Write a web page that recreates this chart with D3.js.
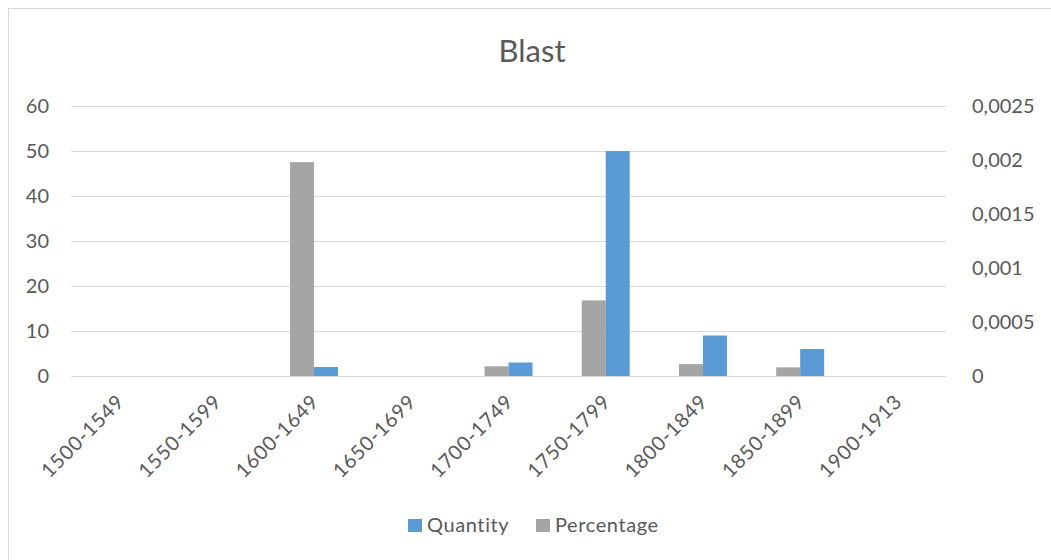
<!DOCTYPE html>
<html>
<head>
<meta charset="utf-8">
<script src="https://cdn.jsdelivr.net/npm/d3@7"></script>
<style>
html,body{margin:0;padding:0;background:#fff;}
svg{display:block;font-family:Lato,"Open Sans",sans-serif;}
</style>
</head>
<body>
<svg id="chart" width="1051" height="560"></svg>
<script>
const categories = ["1500-1549","1550-1599","1600-1649","1650-1699","1700-1749","1750-1799","1800-1849","1850-1899","1900-1913"];
const quantity = [0, 0, 2, 0, 3, 50, 9, 6, 0];
const percentage = [0, 0, 0.00198, 0, 0.00009, 0.0007, 0.00011, 0.00008, 0];
const leftTicks = [0, 10, 20, 30, 40, 50, 60];
const rightTicks = [0, 0.0005, 0.001, 0.0015, 0.002, 0.0025];
const rightTickLabels = ["0", "0,0005", "0,001", "0,0015", "0,002", "0,0025"];

const svg = d3.select("#chart");
const W = 1051, H = 560;
const m = {left: 71, right: 946, top: 106, bottom: 376};
const textColor = "#595959";
const blue = "#5B9BD5", gray = "#A5A5A5";

// outer border
svg.append("rect").attr("x", 8.5).attr("y", 8.5).attr("width", W).attr("height", H)
  .attr("fill", "none").attr("stroke", "#D9D9D9").attr("stroke-width", 1);

const x = d3.scaleBand().domain(categories).range([m.left, m.right]);
const yL = d3.scaleLinear().domain([0, 60]).range([m.bottom, m.top]);
const yR = d3.scaleLinear().domain([0, 0.0025]).range([m.bottom, m.top]);

// gridlines
svg.append("g").selectAll("line").data(leftTicks).join("line")
  .attr("x1", m.left).attr("x2", m.right)
  .attr("y1", d => Math.round(yL(d)) + 0.5).attr("y2", d => Math.round(yL(d)) + 0.5)
  .attr("stroke", "#D9D9D9").attr("stroke-width", 1);

// left axis labels
svg.append("g").selectAll("text").data(leftTicks).join("text")
  .attr("x", 49).attr("y", d => yL(d)).attr("dy", "0.35em")
  .attr("text-anchor", "end").attr("fill", textColor).attr("font-size", 20)
  .text(d => d);

// right axis labels
svg.append("g").selectAll("text").data(rightTicks).join("text")
  .attr("x", 972).attr("y", d => yR(d)).attr("dy", "0.35em")
  .attr("text-anchor", "start").attr("fill", textColor).attr("font-size", 20)
  .text((d, i) => rightTickLabels[i]);

const bw = 24;
// percentage bars (gray, left of center)
svg.append("g").selectAll("rect").data(categories).join("rect")
  .attr("x", (c) => x(c) + x.bandwidth() / 2 - bw)
  .attr("width", bw)
  .attr("y", (c, i) => yR(percentage[i]))
  .attr("height", (c, i) => m.bottom - yR(percentage[i]))
  .attr("fill", gray);

// quantity bars (blue, right of center)
svg.append("g").selectAll("rect").data(categories).join("rect")
  .attr("x", (c) => x(c) + x.bandwidth() / 2)
  .attr("width", bw)
  .attr("y", (c, i) => yL(quantity[i]))
  .attr("height", (c, i) => m.bottom - yL(quantity[i]))
  .attr("fill", blue);

// x labels rotated
svg.append("g").selectAll("text").data(categories).join("text")
  .attr("transform", c => `translate(${x(c) + x.bandwidth() / 2 + 1},${398}) rotate(-45)`)
  .attr("text-anchor", "end").attr("fill", textColor).attr("font-size", 20)
  .attr("letter-spacing", 0.8)
  .attr("dy", "0.35em")
  .text(c => c);

// title
svg.append("text").attr("x", 532).attr("y", 62).attr("text-anchor", "middle")
  .attr("fill", textColor).attr("font-size", 31).text("Blast");

// legend
const legend = [{name: "Quantity", color: blue, x: 408}, {name: "Percentage", color: gray, x: 536}];
const lg = svg.append("g");
lg.selectAll("rect").data(legend).join("rect")
  .attr("x", d => d.x).attr("y", 519).attr("width", 14).attr("height", 13).attr("fill", d => d.color);
lg.selectAll("text").data(legend).join("text")
  .attr("x", d => d.x + 19).attr("y", 525).attr("dy", "0.35em")
  .attr("fill", textColor).attr("font-size", 20).attr("letter-spacing", 0.6).text(d => d.name);
</script>
</body>
</html>
